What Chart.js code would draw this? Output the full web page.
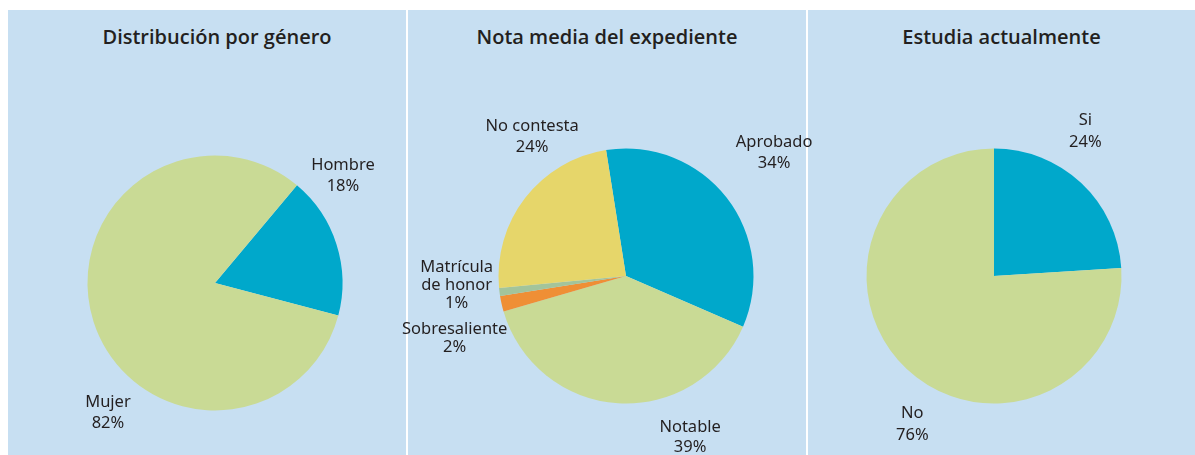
<!DOCTYPE html>
<html lang="es">
<head>
  <meta charset="UTF-8">
  <title>Perfil de los encuestados</title>
  <script src="https://cdn.jsdelivr.net/npm/chart.js"></script>
  <style>
    html, body {
      margin: 0;
      background: #fff;
      font-family: "Noto Sans", sans-serif;
    }
    #wrap {
      position: relative;
      width: 1195px;
      height: 455px;
      overflow: hidden;
    }
    .panel {
      position: absolute;
      top: 10px;
      height: 445px;
      background: #c7dff2;
    }
    .panel h2 {
      position: absolute;
      left: 0;
      right: 0;
      top: 13px;
      margin: 0;
      text-align: center;
      font-family: "Open Sans", sans-serif;
      font-size: 20px;
      font-weight: 600;
      color: #231f20;
    }
    /* every pie gets its own full-size layer so labels may run over the dividers */
    #wrap canvas {
      position: absolute;
      left: 0;
      top: 0;
    }
  </style>
</head>
<body>
  <div id="wrap">
    <div class="panel" style="left:8px;width:398px">
      <h2 style="padding-left:20px">Distribución por género</h2>
    </div>
    <div class="panel" style="left:408px;width:398px">
      <h2>Nota media del expediente</h2>
    </div>
    <div class="panel" style="left:808px;width:387px">
      <h2>Estudia actualmente</h2>
    </div>
    <canvas id="genero" width="1195" height="455"></canvas>
    <canvas id="nota" width="1195" height="455"></canvas>
    <canvas id="estudia" width="1195" height="455"></canvas>
  </div>
  <script>
    const generoLabels = ['Hombre', 'Mujer'];
    const generoValues = [18, 82];

    const notaLabels = ['Aprobado', 'Notable', 'Sobresaliente', ['Matrícula', 'de honor'], 'No contesta'];
    const notaValues = [34, 39, 2, 1, 24];

    const estudiaLabels = ['Si', 'No'];
    const estudiaValues = [24, 76];

    const BLUE = '#00a8cb';
    const GREEN = '#c9da95';
    const YELLOW = '#e6d66a';
    const ORANGE = '#ef8f35';
    const SAGE = '#a3c49b';

    // writes "name / value%" outside the pie; positions are [angle from top in deg, distance in radii, line height]
    const outsideLabels = {
      id: 'outsideLabels',
      afterDraw(chart, args, opts) {
        const arc = chart.getDatasetMeta(0).data[0];
        if (!arc) return;
        const { x, y, outerRadius } = arc;
        const ctx = chart.ctx;
        const values = chart.data.datasets[0].data;
        ctx.save();
        ctx.font = '16.5px "Noto Sans", sans-serif';
        ctx.fillStyle = '#231f20';
        ctx.textAlign = 'center';
        ctx.textBaseline = 'middle';
        chart.data.labels.forEach((name, i) => {
          const [deg, dist, lh] = opts.positions[i];
          const a = (deg - 90) * Math.PI / 180;
          const px = x + Math.cos(a) * outerRadius * dist;
          const py = y + Math.sin(a) * outerRadius * dist;
          const lines = [].concat(name, values[i] + '%');
          const top = py - (lines.length - 1) * lh / 2;
          lines.forEach((t, j) => ctx.fillText(t, px, top + j * lh));
        });
        ctx.restore();
      }
    };

    function makePie(id, labels, values, colors, rotation, padding, positions) {
      return new Chart(document.getElementById(id), {
        type: 'pie',
        data: {
          labels,
          datasets: [{ data: values, backgroundColor: colors, borderWidth: 0 }]
        },
        plugins: [outsideLabels],
        options: {
          responsive: false,
          animation: false,
          rotation,
          layout: { padding },
          plugins: {
            legend: { display: false },
            tooltip: { enabled: false },
            outsideLabels: { positions }
          }
        }
      });
    }

    makePie('genero', generoLabels, generoValues, [BLUE, GREEN], 40,
      { left: 87.5, right: 852.5, top: 155.5, bottom: 44.5 },
      [[50, 1.31, 21], [219.5, 1.32, 21]]);

    makePie('nota', notaLabels, notaValues, [BLUE, GREEN, ORANGE, SAGE, YELLOW], -9,
      { left: 498.5, right: 441.5, top: 148.5, bottom: 51.5 },
      [[50.3, 1.51, 21], [158.3, 1.36, 20], [250, 1.43, 18], [267, 1.33, 18], [326.1, 1.32, 21]]);

    makePie('estudia', estudiaLabels, estudiaValues, [BLUE, GREEN], 0,
      { left: 866.5, right: 73.5, top: 148.5, bottom: 51.5 },
      [[32.3, 1.34, 22], [208.8, 1.33, 22]]);
  </script>
</body>
</html>
